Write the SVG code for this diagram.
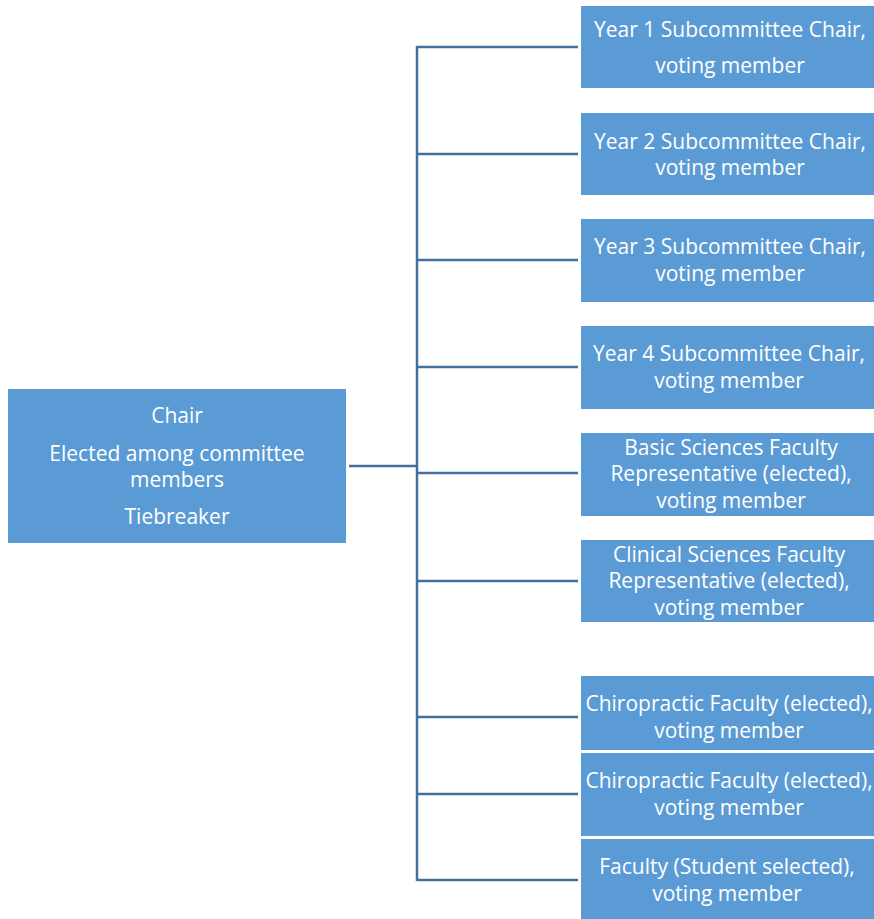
<svg xmlns="http://www.w3.org/2000/svg" width="874" height="919" viewBox="0 0 874 919">
<style>
.box{fill:#5B9BD5;}
.t{font-family:"Open Sans","Liberation Sans",Arial,sans-serif;font-size:21px;fill:#ffffff;text-anchor:middle;}
.c{stroke:#41719C;stroke-width:2.5;fill:none;}
</style>
<rect width="874" height="919" fill="#ffffff"/>
<g id="connectors">
<line class="c" x1="349" y1="466" x2="417" y2="466" stroke-width="3"/>
<line class="c" x1="417" y1="46" x2="417" y2="881"/>
<line class="c" x1="417" y1="47" x2="578" y2="47"/>
<line class="c" x1="417" y1="154" x2="578" y2="154"/>
<line class="c" x1="417" y1="260" x2="578" y2="260"/>
<line class="c" x1="417" y1="367" x2="578" y2="367"/>
<line class="c" x1="417" y1="473" x2="578" y2="473"/>
<line class="c" x1="417" y1="581" x2="578" y2="581"/>
<line class="c" x1="417" y1="717" x2="578" y2="717"/>
<line class="c" x1="417" y1="794" x2="578" y2="794"/>
<line class="c" x1="417" y1="880" x2="578" y2="880"/>
</g>
<g id="chair">
<rect class="box" x="8" y="389" width="338" height="154"/>
<text class="t" x="177" y="423">Chair</text>
<text class="t" x="177" y="461">Elected among committee</text>
<text class="t" x="177" y="487">members</text>
<text class="t" x="177" y="524">Tiebreaker</text>
</g>
<g id="year1">
<rect class="box" x="581" y="6" width="293" height="82"/>
<text class="t" x="730" y="37">Year 1 Subcommittee Chair,</text>
<text class="t" x="730" y="73">voting member</text>
</g>
<g id="year2">
<rect class="box" x="581" y="113" width="293" height="82"/>
<text class="t" x="730" y="149">Year 2 Subcommittee Chair,</text>
<text class="t" x="730" y="175">voting member</text>
</g>
<g id="year3">
<rect class="box" x="581" y="219" width="293" height="83"/>
<text class="t" x="730" y="254">Year 3 Subcommittee Chair,</text>
<text class="t" x="730" y="281">voting member</text>
</g>
<g id="year4">
<rect class="box" x="581" y="326" width="293" height="83"/>
<text class="t" x="729" y="361">Year 4 Subcommittee Chair,</text>
<text class="t" x="729" y="388">voting member</text>
</g>
<g id="basic">
<rect class="box" x="581" y="433" width="293" height="83"/>
<text class="t" x="731" y="455">Basic Sciences Faculty</text>
<text class="t" x="731" y="481">Representative (elected),</text>
<text class="t" x="731" y="508">voting member</text>
</g>
<g id="clinical">
<rect class="box" x="581" y="540" width="293" height="82"/>
<text class="t" x="729" y="562">Clinical Sciences Faculty</text>
<text class="t" x="729" y="588">Representative (elected),</text>
<text class="t" x="729" y="615">voting member</text>
</g>
<g id="chiro1">
<rect class="box" x="581" y="676" width="293" height="74"/>
<text class="t" x="729" y="711">Chiropractic Faculty (elected),</text>
<text class="t" x="729" y="738">voting member</text>
</g>
<g id="chiro2">
<rect class="box" x="581" y="753" width="293" height="83"/>
<text class="t" x="729" y="788">Chiropractic Faculty (elected),</text>
<text class="t" x="729" y="815">voting member</text>
</g>
<g id="student">
<rect class="box" x="581" y="839" width="293" height="80"/>
<text class="t" x="727" y="874">Faculty (Student selected),</text>
<text class="t" x="727" y="901">voting member</text>
</g>
</svg>
